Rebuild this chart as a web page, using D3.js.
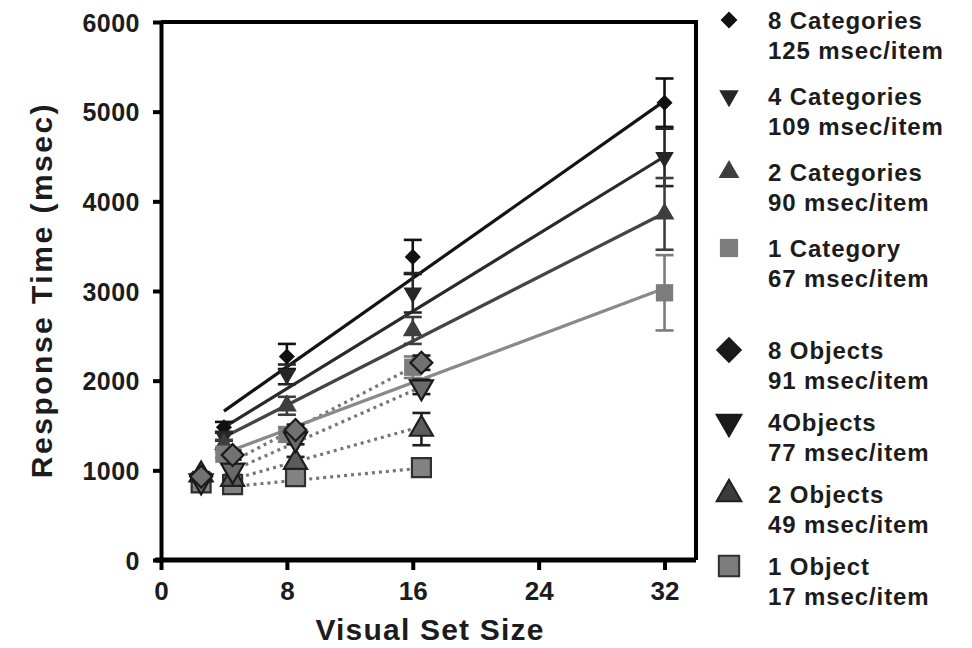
<!DOCTYPE html>
<html>
<head>
<meta charset="utf-8">
<script src="https://cdn.jsdelivr.net/npm/d3@7"></script>
<style>
  html, body { margin: 0; padding: 0; background: #fff; }
  svg { display: block; }
  text { font-family: "Liberation Sans", Arial, Helvetica, sans-serif; font-weight: bold; fill: #1c1c1c; }
</style>
</head>
<body>
<script>
// ---------- data ----------
const catSizes = [4, 8, 16, 32];
const objSizes = [2, 4, 8, 16];
const xTicks = [0, 8, 16, 24, 32];
const yTicks = [0, 1000, 2000, 3000, 4000, 5000, 6000];

const catNames = ["8 Categories", "4 Categories", "2 Categories", "1 Category"];
const catRates = ["125 msec/item", "109 msec/item", "90 msec/item", "67 msec/item"];
const cat8 = [1480, 2270, 3380, 5100];
const cat4 = [1380, 2070, 2980, 4490];
const cat2 = [1290, 1720, 2560, 3860];
const cat1 = [1180, 1400, 2150, 2980];
const cat8Err = [60, 140, 190, 270];
const cat4Err = [50, 110, 220, 320];
const cat2Err = [50, 100, 150, 400];
const cat1Err = [40, 80, 120, 420];
const catFitStart = [1660, 1480, 1370, 1190];   // fitted value at set size 4
const catFitEnd = [5120, 4500, 3870, 3030];     // fitted value at set size 32

const objNames = ["8 Objects", "4Objects", "2 Objects", "1 Object"];
const objRates = ["91 msec/item", "77 msec/item", "49 msec/item", "17 msec/item"];
const obj8 = [930, 1170, 1450, 2200];
const obj4 = [880, 1000, 1350, 1930];
const obj2 = [950, 900, 1090, 1460];
const obj1 = [860, 840, 930, 1030];
const obj8Err = [40, 50, 60, 80];
const obj4Err = [40, 50, 60, 80];
const obj2Err = [30, 40, 60, 180];
const obj1Err = [30, 30, 40, 50];
const objFitStart = [1100, 1000, 900, 820];     // fitted value at set size 4
const objFitEnd = [2200, 1930, 1490, 1025];     // fitted value at set size 16

// ---------- layout / style ----------
const W = 972, H = 648;
const objShift = 0.55;   // horizontal offset of object markers
const catColors = ["#111111", "#262626", "#3e3e3e", "#7c7c7c"];
const catLineColors = ["#141414", "#2a2a2a", "#444444", "#8a8a8a"];
const objFill = ["#727272", "#6a6a6a", "#5c5c5c", "#828282"];
const objLegendFill = ["#1a1a1a", "#1a1a1a", "#3c3c3c", "#7c7c7c"];
const objStroke = ["#1a1a1a", "#1a1a1a", "#202020", "#303030"];
const catSyms = [d3.symbolSquare, d3.symbolTriangle, d3.symbolTriangle, d3.symbolSquare];
const catSymSize = [130, 150, 170, 300];
const objSymSize = [240, 230, 230, 360];
const symRot = [45, 180, 0, 0];

const svg = d3.select("body").append("svg").attr("width", W).attr("height", H);

const x = d3.scaleLinear().domain([0, 34]).range([161, 696]);
const y = d3.scaleLinear().domain([0, 6000]).range([560, 22]);

// frame (top and right)
svg.append("path")
  .attr("d", `M${x(0)},${y(6000)}H${x(34)}V${y(0)}`)
  .attr("fill", "none").attr("stroke", "#000").attr("stroke-width", 4);

// y axis
const yAxis = svg.append("g").attr("transform", `translate(${x(0)},0)`)
  .call(d3.axisLeft(y).tickValues(yTicks).tickFormat(d3.format("d")).tickSize(8).tickSizeOuter(0));
yAxis.select(".domain").attr("stroke", "#000").attr("stroke-width", 4);
yAxis.selectAll(".tick line").attr("stroke", "#000").attr("stroke-width", 4);
yAxis.selectAll(".tick text").attr("x", -21).attr("dy", "0.36em")
  .style("font-size", "25px").style("font-family", "Liberation Sans, Arial, sans-serif")
  .style("font-weight", "bold").style("letter-spacing", "0.5px").attr("fill", "#1c1c1c");

// x axis
const xAxis = svg.append("g").attr("transform", `translate(0,${y(0)})`)
  .call(d3.axisBottom(x).tickValues(xTicks).tickSize(10).tickSizeOuter(0));
xAxis.select(".domain").attr("stroke", "#000").attr("stroke-width", 5)
  .attr("d", `M${x(0) - 6},0H${x(34)}`);
xAxis.selectAll(".tick line").attr("stroke", "#000").attr("stroke-width", 4);
xAxis.selectAll(".tick text").attr("y", 22).attr("dy", "0.71em")
  .style("font-size", "26px").style("font-family", "Liberation Sans, Arial, sans-serif")
  .style("font-weight", "bold").attr("fill", "#1c1c1c");

// axis titles
svg.append("text").attr("x", 430).attr("y", 640).attr("text-anchor", "middle")
  .style("font-size", "30px").style("letter-spacing", "1.2px").text("Visual Set Size");
svg.append("text").attr("transform", "translate(52,290) rotate(-90)").attr("text-anchor", "middle")
  .style("font-size", "30px").style("letter-spacing", "2.5px").text("Response Time (msec)");

const catSeries = [cat8, cat4, cat2, cat1];
const catErrs = [cat8Err, cat4Err, cat2Err, cat1Err];
const objSeries = [obj8, obj4, obj2, obj1];
const objErrs = [obj8Err, obj4Err, obj2Err, obj1Err];

const plot = svg.append("g");

// dotted object fit lines
objFitStart.forEach((v, i) => {
  plot.append("line")
    .attr("x1", x(4 + objShift)).attr("y1", y(v))
    .attr("x2", x(16 + objShift)).attr("y2", y(objFitEnd[i]))
    .attr("stroke", "#767676").attr("stroke-width", 3.2)
    .attr("stroke-dasharray", "3,4");
});

// solid category fit lines
catFitStart.forEach((v, i) => {
  plot.append("line")
    .attr("x1", x(4)).attr("y1", y(v))
    .attr("x2", x(32)).attr("y2", y(catFitEnd[i]))
    .attr("stroke", catLineColors[i]).attr("stroke-width", 3.2);
});

function errorBars(vals, errs, sizes, shift, color) {
  vals.forEach((v, j) => {
    const cx = x(sizes[j] + shift);
    const g = plot.append("g").attr("stroke", color).attr("stroke-width", 2.6);
    g.append("line").attr("x1", cx).attr("x2", cx).attr("y1", y(v - errs[j])).attr("y2", y(v + errs[j]));
    [v - errs[j], v + errs[j]].forEach(e => {
      g.append("line").attr("x1", cx - 9).attr("x2", cx + 9).attr("y1", y(e)).attr("y2", y(e));
    });
  });
}
catSeries.forEach((s, i) => errorBars(s, catErrs[i], catSizes, 0, catColors[i]));
objSeries.forEach((s, i) => errorBars(s, objErrs[i], objSizes, objShift, objStroke[i]));

// category markers
catSeries.forEach((s, i) => {
  plot.selectAll(null).data(s).enter().append("path")
    .attr("d", d3.symbol().type(catSyms[i]).size(catSymSize[i]))
    .attr("transform", (d, j) => `translate(${x(catSizes[j])},${y(d)}) rotate(${symRot[i]})`)
    .attr("fill", catColors[i]);
});

// object markers
[3, 2, 1, 0].forEach(i => {
  plot.selectAll(null).data(objSeries[i]).enter().append("path")
    .attr("d", d3.symbol().type(catSyms[i]).size(objSymSize[i]))
    .attr("transform", (d, j) => `translate(${x(objSizes[j] + objShift)},${y(d)}) rotate(${symRot[i]})`)
    .attr("fill", objFill[i]).attr("stroke", objStroke[i]).attr("stroke-width", 2.2);
});

// legend
const legend = svg.append("g");
const legendItems = [];
catNames.forEach((n, i) => legendItems.push({ name: n, rate: catRates[i], i, obj: false, ly: 20 + i * 76 }));
objNames.forEach((n, i) => legendItems.push({ name: n, rate: objRates[i], i, obj: true, ly: 350 + i * 72 }));
legendItems.forEach(it => {
  legend.append("path")
    .attr("d", d3.symbol().type(catSyms[it.i]).size(it.obj ? objSymSize[it.i] * 1.15 : catSymSize[it.i] * 1.1))
    .attr("transform", `translate(729,${it.ly}) rotate(${symRot[it.i]})`)
    .attr("fill", it.obj ? objLegendFill[it.i] : catColors[it.i])
    .attr("stroke", it.obj ? objStroke[it.i] : "none").attr("stroke-width", 2);
  legend.append("text").attr("x", 768).attr("y", it.ly + 9)
    .style("font-size", "24px").style("letter-spacing", "0.9px").text(it.name);
  legend.append("text").attr("x", 768).attr("y", it.ly + 39)
    .style("font-size", "24px").style("letter-spacing", "0.9px").text(it.rate);
});
</script>
</body>
</html>
